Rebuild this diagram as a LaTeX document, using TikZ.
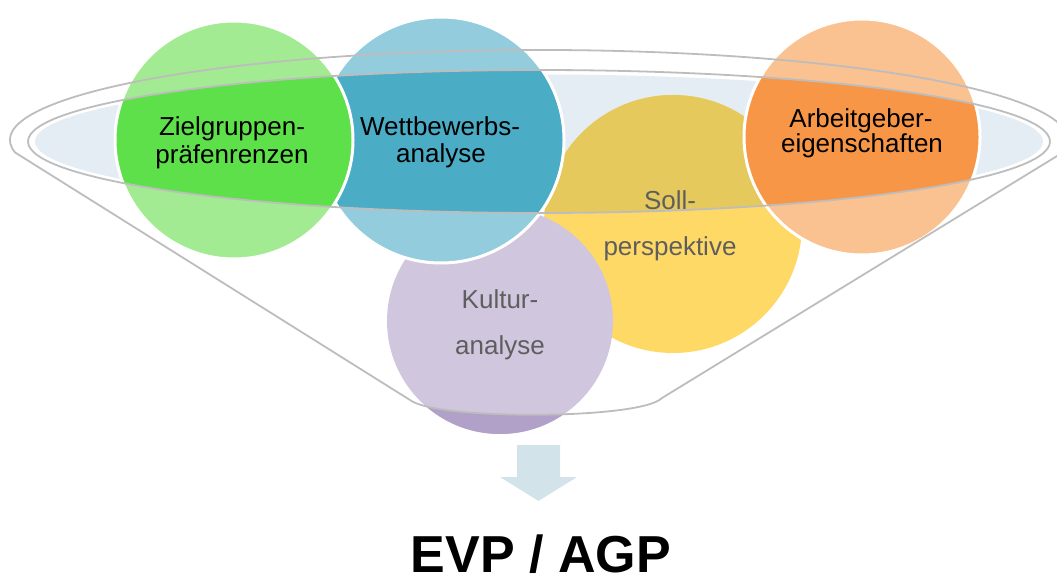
\documentclass[tikz,border=0pt]{standalone}
\usepackage{fontspec}
\setmainfont{Liberation Sans}
\definecolor{rimline}{HTML}{BDBDBD}
\definecolor{rimfill}{HTML}{E4EDF3}
\definecolor{greenD}{HTML}{5EE04B}
\definecolor{greenL}{HTML}{A2EB92}
\definecolor{blueD}{HTML}{4BACC6}
\definecolor{blueL}{HTML}{93CDDD}
\definecolor{orangeD}{HTML}{F79646}
\definecolor{orangeL}{HTML}{FAC191}
\definecolor{yellowD}{HTML}{E5C95C}
\definecolor{yellowL}{HTML}{FFD966}
\definecolor{purpleD}{HTML}{B1A0C7}
\definecolor{purpleL}{HTML}{D0C6DE}
\definecolor{arrowfill}{HTML}{D2E3EA}
\definecolor{labelgray}{HTML}{5E5E5E}
\begin{document}
\begin{tikzpicture}[x=1pt,y=1pt]
\tikzset{
  innerrim/.style={insert path={(539,-141.5) ellipse [x radius=511, y radius=71.5]}},
  belowfunnel/.style={insert path={(410,-400) .. controls (435,-420) and (640,-420) .. (662,-398)
      -- (700,-398) -- (700,-470) -- (380,-470) -- (380,-400) -- cycle}},
  rim/.style={draw=rimline, line width=1.8pt},
  ring/.style={draw=white, line width=3pt},
  lbl/.style={font=\fontsize{26}{27}\selectfont, text=black, anchor=base, inner sep=0pt},
  glbl/.style={lbl, text=labelgray},
}
\useasboundingbox (0,0) rectangle (1057,-578);
\clip (0,0) rectangle (1057,-578);

% glass surface of the funnel mouth
\fill[rimfill] (539,-141.5) ellipse [x radius=504, y radius=67];

% yellow: darker where seen through the funnel mouth
\fill[yellowL] (673,-224) circle [radius=129];
\begin{scope}
  \clip[innerrim];
  \fill[yellowD] (673,-224) circle [radius=129];
\end{scope}

% purple: darker below the funnel outlet
\fill[purpleL] (500,-321) circle [radius=113];
\begin{scope}
  \clip[belowfunnel];
  \fill[purpleD] (500,-321) circle [radius=113];
\end{scope}

% blue
\fill[blueL] (441,-140) circle [radius=123];
\begin{scope}
  \clip[innerrim];
  \fill[blueD] (441,-140) circle [radius=123];
\end{scope}
\draw[ring] (441,-140) circle [radius=123];

% green
\fill[greenL] (234,-140) circle [radius=119];
\begin{scope}
  \clip[innerrim];
  \fill[greenD] (234,-140) circle [radius=119];
\end{scope}
\draw[ring] (234,-140) circle [radius=119];

% orange
\fill[orangeL] (862,-137) circle [radius=118];
\begin{scope}
  \clip[innerrim];
  \fill[orangeD] (862,-137) circle [radius=118];
\end{scope}
\draw[ring] (862,-137) circle [radius=118];

% funnel outlines
\path[rim, innerrim];
\draw[rim, line join=round] (15.1,-152.5) arc [start angle=188, end angle=-8, x radius=529, y radius=90]
  -- (662,-398) .. controls (640,-420) and (435,-420) .. (410,-400) -- cycle;

% labels
\node[lbl] (zg1) at (232,-135) {Zielgruppen-};
\node[lbl] (zg2) at (232,-163) {präfenrenzen};
\node[lbl] (wb1) at (440,-135) {Wettbewerbs-};
\node[lbl] (wb2) at (441,-162) {analyse};
\node[lbl] (ag1) at (861,-127) {Arbeitgeber-};
\node[lbl] (ag2) at (862,-152) {eigenschaften};
\node[glbl] (sp1) at (670,-209) {Soll-};
\node[glbl] (sp2) at (670,-255) {perspektive};
\node[glbl] (ka1) at (500,-308) {Kultur-};
\node[glbl] (ka2) at (500,-354) {analyse};

% down arrow
\fill[arrowfill] (517,-445) -- (560,-445) -- (560,-477) -- (577,-477) -- (538.5,-501)
  -- (500,-477) -- (517,-477) -- cycle;

\node[anchor=base, inner sep=0pt, font=\fontsize{52}{60}\selectfont\bfseries] (evp) at (541,-572.5) {EVP / AGP};
\end{tikzpicture}
\end{document}
